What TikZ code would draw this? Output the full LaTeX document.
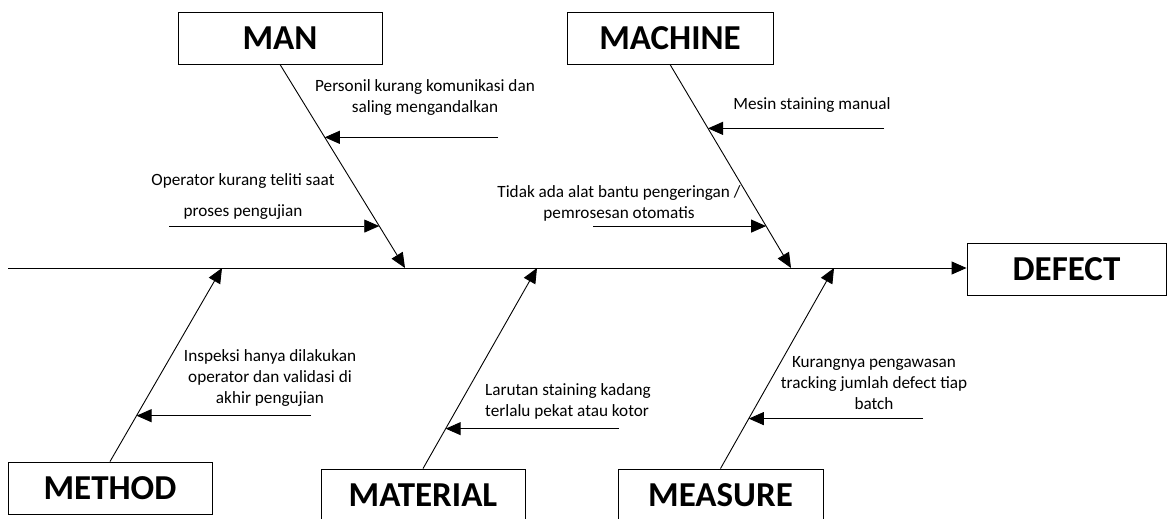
\documentclass[tikz,border=0pt]{standalone}
\usepackage{fontspec}
\setmainfont{Carlito}
\usetikzlibrary{arrows.meta,calc}

\tikzset{
  catbox/.style={draw, line width=0.9pt, minimum width=204pt, minimum height=52pt,
    inner sep=0pt, font=\fontsize{35}{40}\selectfont\bfseries},
  bone/.style={line width=0.9pt, -{Triangle[length=15pt,width=13pt]}},
  cause/.style={font=\fontsize{17.2}{21}\selectfont, align=center, inner sep=0pt},
}

\begin{document}
\begin{tikzpicture}[x=1pt, y=-1pt]
\useasboundingbox (0,0) rectangle (1167,519);

% category boxes
\node[catbox] (man)      at (280,38)    {MAN};
\node[catbox, minimum width=206pt] (machine) at (670,38) {MACHINE};
\node[catbox] (method)   at (110,488)   {METHOD};
\node[catbox] (material) at (423,495)   {MATERIAL};
\node[catbox, minimum width=205pt] (measure) at (720.5,495) {MEASURE};
\node[catbox, minimum width=199pt] (defect) at (1066.5,269) {DEFECT};

% spine
\coordinate (spinestart) at (8,268);
\draw[bone] (spinestart) -- (defect.west |- spinestart);

% points where the bones meet the spine
\coordinate (sman)  at (405,268);
\coordinate (smach) at (791,268);
\coordinate (smeth) at (222,268);
\coordinate (smat)  at (537,268);
\coordinate (smeas) at (834,268);

% bones
\draw[bone] (man.south)      -- (sman);
\draw[bone] (machine.south)  -- (smach);
\draw[bone] (method.north)   -- (smeth);
\draw[bone] (material.north) -- (smat);
\draw[bone] (measure.north)  -- (smeas);

% points on the bones hit by the cause arrows
\coordinate (man1)  at ($(man.south)!0.358!(sman)$);
\coordinate (man2)  at ($(man.south)!0.794!(sman)$);
\coordinate (mach1) at ($(machine.south)!0.314!(smach)$);
\coordinate (mach2) at ($(machine.south)!0.794!(smach)$);
\coordinate (meth1) at ($(method.north)!0.237!(smeth)$);
\coordinate (mat1)  at ($(material.north)!0.199!(smat)$);
\coordinate (meas1) at ($(measure.north)!0.249!(smeas)$);

% free ends of the cause arrows
\coordinate (man1s)  at (498,0 |- man1);
\coordinate (man2s)  at (169,0 |- man2);
\coordinate (mach1s) at (884,0 |- mach1);
\coordinate (mach2s) at (593,0 |- mach2);
\coordinate (meth1s) at (311,0 |- meth1);
\coordinate (mat1s)  at (619,0 |- mat1);
\coordinate (meas1s) at (923,0 |- meas1);

\draw[bone] (man1s)  -- (man1);
\draw[bone] (man2s)  -- (man2);
\draw[bone] (mach1s) -- (mach1);
\draw[bone] (mach2s) -- (mach2);
\draw[bone] (meth1s) -- (meth1);
\draw[bone] (mat1s)  -- (mat1);
\draw[bone] (meas1s) -- (meas1);

% cause texts
\node[cause] (t1)  at (425,97.5)  {Personil kurang komunikasi dan\\saling mengandalkan};
\node[cause] (t2a) at (243,181)   {Operator kurang teliti saat};
\node[cause] (t2b) at (243,212)   {proses pengujian};
\node[cause] (t3)  at (812,105)   {Mesin staining manual};
\node[cause] (t4)  at (619,203)   {Tidak ada alat bantu pengeringan /\\pemrosesan otomatis};
\node[cause] (t5)  at (270,378)   {Inspeksi hanya dilakukan\\operator dan validasi di\\akhir pengujian};
\node[cause, align=left] (t6) at (568,401) {Larutan staining kadang\\terlalu pekat atau kotor};
\node[cause] (t7)  at (874,383)   {Kurangnya pengawasan\\tracking jumlah defect tiap\\batch};
\end{tikzpicture}
\end{document}
